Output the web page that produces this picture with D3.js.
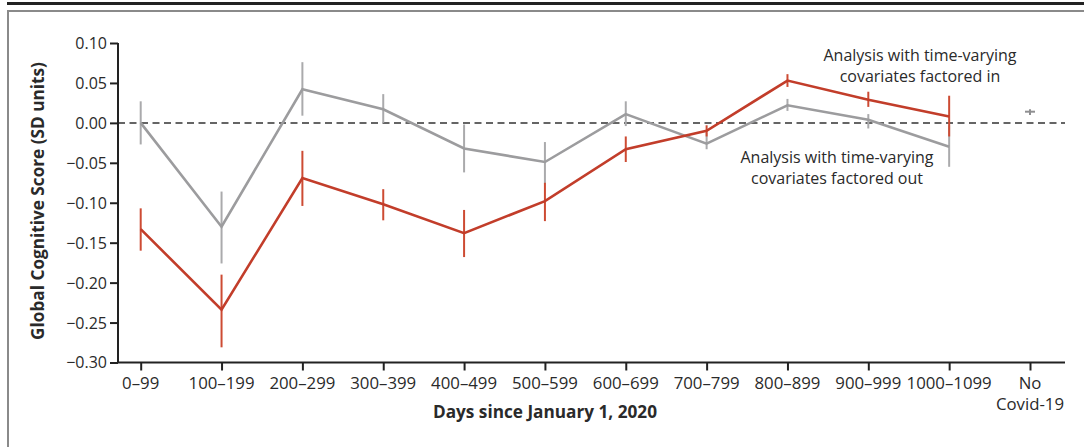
<!DOCTYPE html>
<html><head><meta charset="utf-8">
<script src="https://cdn.jsdelivr.net/npm/d3@7"></script>
<style>
body{margin:0;background:#fff;}
svg{display:block;font-family:"Open Sans",sans-serif;}
</style></head>
<body><svg id="c" width="1084" height="447"></svg>
<script>
const categories = ["0–99","100–199","200–299","300–399","400–499","500–599","600–699","700–799","800–899","900–999","1000–1099","No Covid-19"];
const yTicks = [0.10,0.05,0.00,-0.05,-0.10,-0.15,-0.20,-0.25,-0.30];
// Analysis with time-varying covariates factored in (red)
const inValues = [-0.133,-0.234,-0.069,-0.102,-0.138,-0.098,-0.033,-0.010,0.053,0.029,0.008];
const inLow    = [-0.160,-0.281,-0.104,-0.122,-0.168,-0.123,-0.049,-0.017,0.045,0.020,-0.017];
const inHigh   = [-0.107,-0.190,-0.035,-0.083,-0.109,-0.075,-0.017,-0.003,0.061,0.039,0.034];
// Analysis with time-varying covariates factored out (gray)
const outValues = [0.000,-0.130,0.042,0.017,-0.032,-0.049,0.011,-0.026,0.022,0.004,-0.030];
const outLow    = [-0.027,-0.176,0.009,0.000,-0.062,-0.076,-0.004,-0.033,0.015,-0.007,-0.055];
const outHigh   = [0.027,-0.086,0.076,0.036,-0.002,-0.024,0.027,-0.012,0.030,0.011,-0.003];
// No Covid-19 reference
const refValue = [0.014];
const refLow = [0.010];
const refHigh = [0.017];

const svg = d3.select("#c");
const redLine = "#c23d2a", redBar = "#cd4b33", grayLine = "#9c9c9e", grayBar = "#aaaaac";
const txt = "#2a2a2a";

// frame
svg.append("line").attr("x1",7).attr("x2",1084).attr("y1",3.5).attr("y2",3.5).attr("stroke","#222").attr("stroke-width",3);
svg.append("rect").attr("x",8).attr("y",11).attr("width",1090).attr("height",450).attr("fill","none").attr("stroke","#8a8a8a").attr("stroke-width",2);

const x = d3.scalePoint().domain(categories).range([140.7,1030]);
const y = d3.scaleLinear().domain([-0.30,0.10]).range([362.5,43]);
const axisX0 = 118, axisX1 = 1065;

// zero dashed
svg.append("line").attr("x1",axisX0).attr("x2",axisX1).attr("y1",y(0)).attr("y2",y(0))
  .attr("stroke","#333").attr("stroke-width",1.5).attr("stroke-dasharray","7,4.5");

// y axis
const ya = svg.append("g").attr("transform",`translate(${axisX0},0)`)
  .call(d3.axisLeft(y).tickValues(yTicks).tickSize(8).tickPadding(3).tickFormat(d3.format(".2f")));
ya.select(".domain").attr("stroke","#222").attr("stroke-width",2).attr("d",`M0,${y(0.10)}V${y(-0.30)}`);
ya.selectAll(".tick line").attr("stroke","#222").attr("stroke-width",2);
ya.selectAll(".tick text").attr("font-size",16).attr("fill",txt).attr("font-family","Open Sans").attr("dy","0.34em");

// x axis
const xa = svg.append("g").attr("transform",`translate(0,${y(-0.30)})`)
  .call(d3.axisBottom(x).tickSize(8).tickFormat(""));
xa.select(".domain").attr("stroke","#222").attr("stroke-width",2).attr("d",`M${axisX0},0H${axisX1}`);
xa.selectAll(".tick line").attr("stroke","#222").attr("stroke-width",2);
categories.forEach(c=>{
  const lines = c==="No Covid-19" ? ["No","Covid-19"] : [c];
  const t = svg.append("text").attr("x",x(c)).attr("y",389).attr("text-anchor","middle")
    .attr("font-size",16.8).attr("fill",txt);
  lines.forEach((l,i)=>t.append("tspan").attr("x",x(c)).attr("dy",i?21:0).text(l));
});

// axis titles
svg.append("text").attr("x",545).attr("y",418).attr("text-anchor","middle").attr("font-weight","bold")
  .attr("font-size",17.2).attr("fill",txt).text("Days since January 1, 2020");
svg.append("text").attr("transform","translate(44,201) rotate(-90)").attr("text-anchor","middle").attr("font-weight","bold")
  .attr("font-size",17.2).attr("fill",txt).text("Global Cognitive Score (SD units)");

const cats = categories.slice(0,11);
function series(vals, lo, hi, lc, bc){
  const g = svg.append("g");
  g.selectAll("line.eb").data(cats).join("line").attr("class","eb")
    .attr("x1",d=>x(d)).attr("x2",d=>x(d))
    .attr("y1",(d,i)=>y(lo[i])).attr("y2",(d,i)=>y(hi[i]))
    .attr("stroke",bc).attr("stroke-width",2);
  g.append("path").datum(vals).attr("fill","none").attr("stroke",lc).attr("stroke-width",2.6)
    .attr("stroke-linejoin","miter")
    .attr("d",d3.line().x((d,i)=>x(cats[i])).y(d=>y(d)));
}
series(outValues,outLow,outHigh,grayLine,grayBar);
series(inValues,inLow,inHigh,redLine,redBar);

// No Covid-19 reference marker
const nc = x("No Covid-19");
svg.selectAll("line.ref").data(refValue).join("line").attr("class","ref")
  .attr("x1",nc-5).attr("x2",nc+5).attr("y1",d=>y(d)).attr("y2",d=>y(d)).attr("stroke","#8f8f91").attr("stroke-width",2);
svg.selectAll("line.refeb").data(refValue).join("line").attr("class","refeb")
  .attr("x1",nc).attr("x2",nc).attr("y1",(d,i)=>y(refLow[i])).attr("y2",(d,i)=>y(refHigh[i])).attr("stroke","#8f8f91").attr("stroke-width",2);

// annotations
function note(cx, by, lines){
  const t = svg.append("text").attr("text-anchor","middle").attr("font-size",16).attr("fill",txt);
  lines.forEach((l,i)=>t.append("tspan").attr("x",cx).attr("y",by+i*21).text(l));
}
note(920,61,["Analysis with time-varying","covariates factored in"]);
note(837,162.5,["Analysis with time-varying","covariates factored out"]);
</script></body></html>
